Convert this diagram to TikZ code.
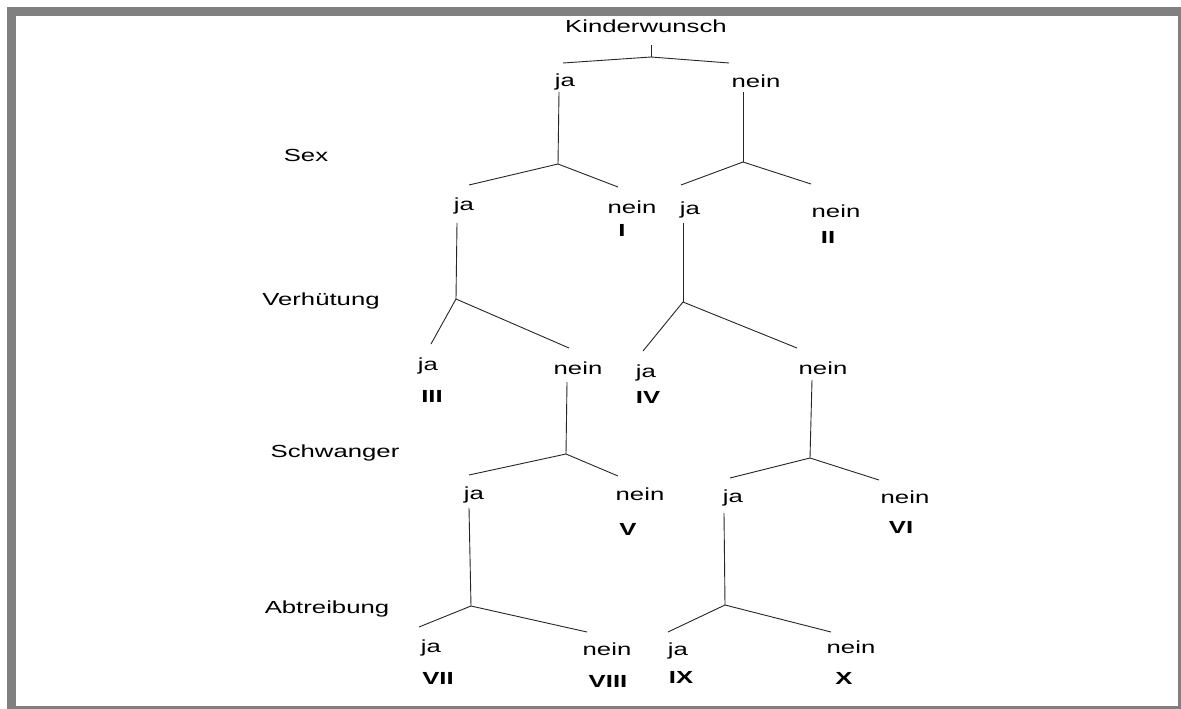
\documentclass[tikz,border=0pt]{standalone}
\usepackage{fontspec}
\setmainfont[FakeStretch=1.47]{Liberation Sans}
\definecolor{framegray}{HTML}{808080}
\begin{document}
\begin{tikzpicture}[x=1pt,y=-1pt,
  lbl/.style={font=\fontsize{17.5}{20}\selectfont, anchor=base, inner sep=0pt},
  num/.style={font=\fontsize{17.5}{20}\selectfont\bfseries, anchor=base, inner sep=0pt},
  br/.style={line width=0.9pt, black!85}]
\useasboundingbox (0,0) rectangle (1181,709);
\fill[framegray] (7,7) rectangle (1181,709);
\fill[white] (16,16) rectangle (1178,706);
% labels
\node[lbl] (root) at (646,33) {Kinderwunsch};
\node[lbl] (a) at (565,87) {ja};
\node[lbl] (b) at (756,88) {nein};
\node[lbl] (sex) at (306,161) {Sex};
\node[lbl] (c) at (464,210) {ja};
\node[lbl] (d) at (632,213) {nein};
\node[num] (nI) at (622,236) {I};
\node[lbl] (e) at (690,214) {ja};
\node[lbl] (f) at (836,217) {nein};
\node[num] (nII) at (828,243) {II};
\node[lbl] (verh) at (321,305) {Verhütung};
\node[lbl] (g) at (428,370) {ja};
\node[num] (nIII) at (432,402) {III};
\node[lbl] (h) at (578,374) {nein};
\node[lbl] (i) at (646,377) {ja};
\node[num] (nIV) at (648,403) {IV};
\node[lbl] (j) at (823,374) {nein};
\node[lbl] (schw) at (335,457) {Schwanger};
\node[lbl] (k) at (474,499) {ja};
\node[lbl] (l) at (640,500) {nein};
\node[num] (nV) at (628,535) {V};
\node[lbl] (m) at (733,502) {ja};
\node[lbl] (n) at (905,503) {nein};
\node[num] (nVI) at (901,533) {VI};
\node[lbl] (abtr) at (327,613) {Abtreibung};
\node[lbl] (o) at (431,652) {ja};
\node[num] (nVII) at (438,684) {VII};
\node[lbl] (p) at (607,655) {nein};
\node[num] (nVIII) at (608,687) {VIII};
\node[lbl] (q) at (678,655) {ja};
\node[num] (nIX) at (681,683) {IX};
\node[lbl] (r) at (851,653) {nein};
\node[num] (nX) at (844,684) {X};
% connector points
\coordinate (t0) at (651,45); \coordinate (p0) at (651,57);
\coordinate (l0) at (563,63); \coordinate (r0) at (729,63);
\coordinate (ta) at (559,92); \coordinate (pa) at (558,164);
\coordinate (la) at (469,185); \coordinate (ra) at (618,187);
\coordinate (tb) at (743,92); \coordinate (pb) at (743,162);
\coordinate (lb) at (681,185); \coordinate (rb) at (811,184);
\coordinate (tc) at (457,223); \coordinate (pc) at (456,299);
\coordinate (lc) at (431,344); \coordinate (rc) at (569,348);
\coordinate (te) at (683,223); \coordinate (pe) at (683,302);
\coordinate (le) at (643,351); \coordinate (re) at (797,348);
\coordinate (th) at (567,382); \coordinate (ph) at (566,454);
\coordinate (lh) at (469,475); \coordinate (rh) at (618,476);
\coordinate (tj) at (812,380); \coordinate (pj) at (810,458);
\coordinate (lj) at (730,478); \coordinate (rj) at (879,480);
\coordinate (tk) at (469,508); \coordinate (pk) at (471,606);
\coordinate (lk) at (419,627); \coordinate (rk) at (587,632);
\coordinate (tm) at (724,513); \coordinate (pm) at (725,605);
\coordinate (lm) at (668,632); \coordinate (rm) at (831,632);
% connectors
\draw[br] (t0) -- (p0); \draw[br] (l0) -- (p0) -- (r0);
\draw[br] (ta) -- (pa); \draw[br] (la) -- (pa) -- (ra);
\draw[br] (tb) -- (pb); \draw[br] (lb) -- (pb) -- (rb);
\draw[br] (tc) -- (pc); \draw[br] (lc) -- (pc) -- (rc);
\draw[br] (te) -- (pe); \draw[br] (le) -- (pe) -- (re);
\draw[br] (th) -- (ph); \draw[br] (lh) -- (ph) -- (rh);
\draw[br] (tj) -- (pj); \draw[br] (lj) -- (pj) -- (rj);
\draw[br] (tk) -- (pk); \draw[br] (lk) -- (pk) -- (rk);
\draw[br] (tm) -- (pm); \draw[br] (lm) -- (pm) -- (rm);
\end{tikzpicture}
\end{document}
